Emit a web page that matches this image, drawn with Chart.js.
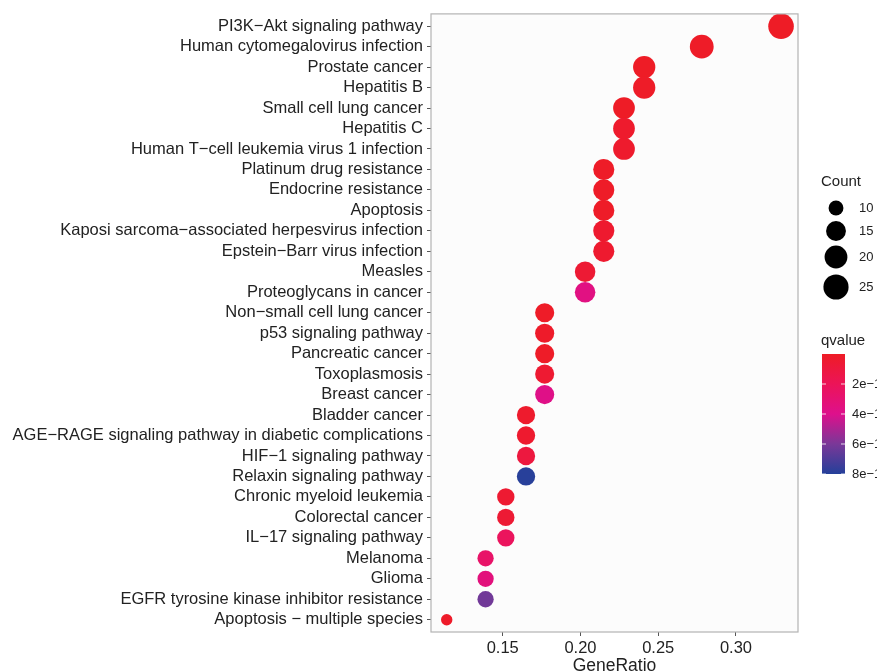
<!DOCTYPE html>
<html>
<head>
<meta charset="utf-8">
<script src="https://cdn.jsdelivr.net/npm/chart.js@4.4.1/dist/chart.umd.min.js"></script>
<style>
  html, body { margin: 0; padding: 0; background: #fff; }
  #wrap { width: 877px; height: 671px; }
</style>
</head>
<body>
<div id="wrap"><canvas id="dotplot" width="877" height="671"></canvas></div>
<script>
// KEGG pathways, top to bottom
const pathways = [
    'PI3K−Akt signaling pathway',
    'Human cytomegalovirus infection',
    'Prostate cancer',
    'Hepatitis B',
    'Small cell lung cancer',
    'Hepatitis C',
    'Human T−cell leukemia virus 1 infection',
    'Platinum drug resistance',
    'Endocrine resistance',
    'Apoptosis',
    'Kaposi sarcoma−associated herpesvirus infection',
    'Epstein−Barr virus infection',
    'Measles',
    'Proteoglycans in cancer',
    'Non−small cell lung cancer',
    'p53 signaling pathway',
    'Pancreatic cancer',
    'Toxoplasmosis',
    'Breast cancer',
    'Bladder cancer',
    'AGE−RAGE signaling pathway in diabetic complications',
    'HIF−1 signaling pathway',
    'Relaxin signaling pathway',
    'Chronic myeloid leukemia',
    'Colorectal cancer',
    'IL−17 signaling pathway',
    'Melanoma',
    'Glioma',
    'EGFR tyrosine kinase inhibitor resistance',
    'Apoptosis − multiple species'
];
const geneRatio = [0.329, 0.278, 0.241, 0.241, 0.228, 0.228, 0.228, 0.215, 0.215, 0.215,
                   0.215, 0.215, 0.203, 0.203, 0.177, 0.177, 0.177, 0.177, 0.177, 0.165,
                   0.165, 0.165, 0.165, 0.152, 0.152, 0.152, 0.139, 0.139, 0.139, 0.114];
const geneCount = [26, 22, 19, 19, 18, 18, 18, 17, 17, 17,
                   17, 17, 16, 16, 14, 14, 14, 14, 14, 13,
                   13, 13, 13, 12, 12, 12, 11, 11, 11, 9];
// qvalue in units of 1e-10
const qValue = [0.05, 0.1, 0.02, 0.1, 0.05, 0.3, 0.3, 0.1, 0.1, 0.1,
                0.4, 0.4, 0.6, 3.6, 0.1, 0.2, 0.1, 0.5, 3.8, 0.3,
                0.4, 1.0, 7.9, 0.5, 0.6, 2.2, 2.6, 3.4, 6.2, 0.2];
const xTicks = [0.15, 0.20, 0.25, 0.30];
const countBreaks = [10, 15, 20, 25];
const qBreaks = [2, 4, 6, 8];
const qBreakLabels = ['2e−10', '4e−10', '6e−10', '8e−10'];

const fontFamily = '"Liberation Sans", Arial, sans-serif';
const textColor = '#222';
const qMin = 0, qMax = 8;
const cMin = Math.min(...geneCount), cMax = Math.max(...geneCount);
const rMin = 5.7, rMax = 12.8;

// colour ramp sampled from the colourbar
const ramp = [
    [0.00, [238, 28, 37]],
    [0.25, [236, 20, 88]],
    [0.50, [222, 16, 140]],
    [0.75, [122, 56, 152]],
    [1.00, [36, 64, 154]]
];
function qColor(q) {
    const t = Math.max(0, Math.min(1, (q - qMin) / (qMax - qMin)));
    for (let i = 1; i < ramp.length; i++) {
        if (t <= ramp[i][0]) {
            const [t0, c0] = ramp[i - 1];
            const [t1, c1] = ramp[i];
            const f = (t - t0) / (t1 - t0);
            const c = c0.map((v, k) => Math.round(v + (c1[k] - v) * f));
            return `rgb(${c[0]},${c[1]},${c[2]})`;
        }
    }
    return 'rgb(36,64,154)';
}
// ggplot-like area scale
function sizeOf(c) {
    const t = Math.max(0, (c - cMin) / (cMax - cMin));
    return rMin + (rMax - rMin) * Math.sqrt(t);
}

const points = pathways.map((p, i) => ({ x: geneRatio[i], y: i }));

const panelPlugin = {
    id: 'panel',
    beforeDatasetsDraw(chart) {
        const { ctx, chartArea: a } = chart;
        ctx.save();
        ctx.fillStyle = '#fcfcfc';
        ctx.fillRect(a.left, a.top, a.right - a.left, a.bottom - a.top);
        ctx.restore();
    },
    afterDraw(chart) {
        const { ctx, chartArea: a } = chart;
        ctx.save();
        ctx.strokeStyle = '#b3b3b3';
        ctx.lineWidth = 1.2;
        ctx.strokeRect(a.left, a.top, a.right - a.left, a.bottom - a.top);

        // Count legend
        ctx.fillStyle = textColor;
        ctx.font = `15px ${fontFamily}`;
        ctx.textBaseline = 'middle';
        ctx.textAlign = 'left';
        ctx.fillText('Count', 821, 182);
        const dotY = [208, 231, 257, 287];
        countBreaks.forEach((c, i) => {
            ctx.fillStyle = '#000';
            ctx.beginPath();
            ctx.arc(836, dotY[i], sizeOf(c), 0, Math.PI * 2);
            ctx.fill();
            ctx.fillStyle = textColor;
            ctx.font = `13px ${fontFamily}`;
            ctx.fillText(String(c), 859, dotY[i]);
        });

        // qvalue colourbar
        ctx.font = `15px ${fontFamily}`;
        ctx.fillText('qvalue', 821, 341);
        const barX = 822, barW = 23, barTop = 354, barBot = 474;
        const g = ctx.createLinearGradient(0, barTop, 0, barBot);
        ramp.forEach(([t]) => g.addColorStop(t, qColor(qMin + t * (qMax - qMin))));
        ctx.fillStyle = g;
        ctx.fillRect(barX, barTop, barW, barBot - barTop);
        ctx.font = `13px ${fontFamily}`;
        qBreaks.forEach((q, i) => {
            const y = barTop + (q - qMin) / (qMax - qMin) * (barBot - barTop);
            ctx.strokeStyle = 'rgba(255,255,255,0.8)';
            ctx.lineWidth = 1;
            ctx.beginPath();
            ctx.moveTo(barX, y); ctx.lineTo(barX + 4, y);
            ctx.moveTo(barX + barW - 4, y); ctx.lineTo(barX + barW, y);
            ctx.stroke();
            ctx.fillStyle = textColor;
            ctx.fillText(qBreakLabels[i], 852, y);
        });
        ctx.restore();
    }
};

new Chart(document.getElementById('dotplot'), {
    type: 'scatter',
    data: {
        datasets: [{
            data: points,
            pointRadius: geneCount.map(sizeOf),
            pointHoverRadius: geneCount.map(sizeOf),
            backgroundColor: qValue.map(qColor),
            borderWidth: 0
        }]
    },
    options: {
        responsive: false,
        animation: false,
        layout: { padding: { left: 0, right: 79, top: 13, bottom: 0 } },
        plugins: { legend: { display: false }, tooltip: { enabled: false } },
        scales: {
            x: {
                type: 'linear',
                min: 0.1039,
                max: 0.3399,
                afterBuildTicks: (s) => { s.ticks = xTicks.map(v => ({ value: v })); },
                afterFit: (s) => { s.height = 39; },
                ticks: {
                    color: textColor,
                    font: { family: fontFamily, size: 16.5 },
                    padding: 3,
                    callback: (v) => v.toFixed(2)
                },
                grid: { display: true, drawOnChartArea: false, drawTicks: true, tickLength: 4, color: '#555' },
                border: { display: false },
                title: {
                    display: true,
                    text: 'GeneRatio',
                    color: textColor,
                    font: { family: fontFamily, size: 17.5 },
                    padding: { top: 0, bottom: -6 }
                }
            },
            y: {
                type: 'linear',
                reverse: true,
                min: -0.6,
                max: pathways.length - 0.4,
                afterBuildTicks: (s) => { s.ticks = pathways.map((p, i) => ({ value: i })); },
                afterFit: (s) => { s.width = 431; },
                ticks: {
                    autoSkip: false,
                    color: textColor,
                    font: { family: fontFamily, size: 16.5 },
                    padding: 4,
                    callback: (v) => pathways[v]
                },
                grid: { display: true, drawOnChartArea: false, drawTicks: true, tickLength: 4, color: '#555' },
                border: { display: false }
            }
        }
    },
    plugins: [panelPlugin]
});
</script>
</body>
</html>
